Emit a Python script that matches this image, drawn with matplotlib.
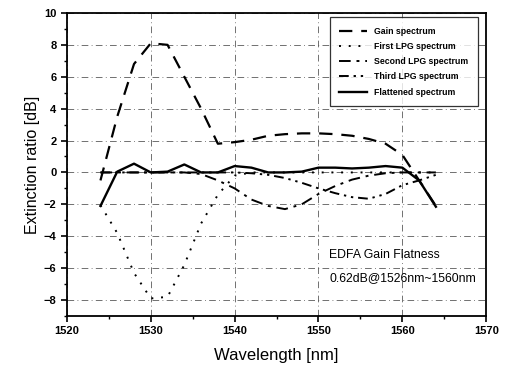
import matplotlib
matplotlib.use('Agg')
import matplotlib.pyplot as plt
from matplotlib.ticker import MultipleLocator

plt.rcParams['font.family'] = ['Liberation Sans', 'DejaVu Sans']

# data
wavelength = [1524, 1526, 1528, 1530, 1532, 1534, 1536, 1538, 1540, 1542, 1544,
              1546, 1548, 1550, 1552, 1554, 1556, 1558, 1560, 1562, 1564]
gain = [-0.5, 3.5, 6.8, 8.1, 8.0, 6.0, 4.0, 1.8, 1.9, 2.05, 2.3,
        2.4, 2.45, 2.45, 2.4, 2.3, 2.1, 1.8, 1.1, -0.5, -2.1]
first_lpg = [-2.05, -3.8, -6.3, -7.9, -7.8, -5.8, -3.2, -1.4, -0.2, 0.0, 0.0,
             0.0, 0.0, 0.0, 0.0, 0.0, 0.0, 0.0, 0.0, 0.0, 0.0]
second_lpg = [0.0, 0.0, 0.0, 0.0, 0.0, 0.0, -0.1, -0.5, -1.0, -1.7, -2.1,
              -2.3, -2.0, -1.35, -0.85, -0.45, -0.2, -0.05, 0.0, 0.0, 0.0]
third_lpg = [0.0, 0.0, 0.0, 0.0, 0.0, 0.0, 0.0, 0.0, 0.0, -0.05, -0.15,
             -0.35, -0.65, -1.0, -1.3, -1.55, -1.65, -1.35, -0.8, -0.5, -0.15]
flattened = [-2.1, 0.05, 0.55, 0.0, 0.05, 0.5, 0.0, 0.0, 0.4, 0.3, 0.0,
             0.0, 0.05, 0.3, 0.3, 0.25, 0.3, 0.4, 0.3, -0.5, -2.15]

fig = plt.figure(figsize=(5.07, 3.70), dpi=100)
ax = fig.add_axes([0.132, 0.146, 0.827, 0.819])

ax.plot(wavelength, gain, color='black', lw=1.6, linestyle=(0, (6, 4)), label='Gain spectrum')
ax.plot(wavelength, first_lpg, color='black', lw=1.4, linestyle=(0, (1, 4)), label='First LPG spectrum')
ax.plot(wavelength, second_lpg, color='black', lw=1.4, linestyle=(0, (6, 3, 1.5, 3)), label='Second LPG spectrum')
ax.plot(wavelength, third_lpg, color='black', lw=1.4, linestyle=(0, (5, 2.5, 1.2, 2.5, 1.2, 2.5)), label='Third LPG spectrum')
ax.plot(wavelength, flattened, color='black', lw=1.7, linestyle='-', label='Flattened spectrum')

ax.set_xlim(1520, 1570)
ax.set_ylim(-9, 10)
ax.xaxis.set_major_locator(MultipleLocator(10))
ax.xaxis.set_minor_locator(MultipleLocator(5))
ax.yaxis.set_major_locator(MultipleLocator(2))
ax.yaxis.set_minor_locator(MultipleLocator(1))
ax.tick_params(which='major', direction='out', length=4, width=1.2, labelsize=8)
ax.tick_params(which='minor', direction='out', length=2, width=1)
for lab in ax.get_xticklabels() + ax.get_yticklabels():
    lab.set_fontweight('bold')
for sp in ax.spines.values():
    sp.set_linewidth(1.3)

ax.grid(True, which='major', color='0.35', lw=0.6, linestyle=(0, (8, 4, 1, 4)))

ax.set_xlabel('Wavelength [nm]', fontsize=12, labelpad=8)
ax.set_ylabel('Extinction ratio [dB]', fontsize=11.5, labelpad=3)

leg = ax.legend(loc='upper right', fontsize=6.3, frameon=True, fancybox=False,
                edgecolor='black', handlelength=3.2, borderpad=1.1, labelspacing=0.7,
                bbox_to_anchor=(0.981, 0.985), borderaxespad=0)
leg.get_frame().set_linewidth(0.9)
for t in leg.get_texts():
    t.set_fontweight('bold')

ax.text(1551.3, -5.2, 'EDFA Gain Flatness', fontsize=8.8, va='center', ha='left')
ax.text(1551.3, -6.6, '0.62dB@1526nm~1560nm', fontsize=8.8, va='center', ha='left')

fig.savefig('out.png', dpi=100)
